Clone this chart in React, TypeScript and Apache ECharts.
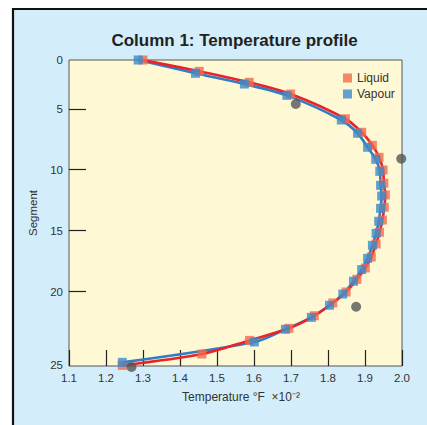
import React, { useEffect, useRef } from "react";
import * as echarts from "echarts";

// Temperature (°F ×10⁻²) vs segment
const vapourTemp = [1.287, 1.442, 1.574, 1.689, 1.836, 1.88, 1.907, 1.929, 1.94, 1.942, 1.945, 1.942, 1.937, 1.93, 1.92, 1.907, 1.891, 1.869, 1.84, 1.804, 1.755, 1.685, 1.601, 1.244];
const vapourSeg = [1.0, 2.09, 2.97, 3.9, 5.92, 7.01, 8.16, 9.15, 10.13, 11.28, 12.16, 13.17, 14.23, 15.22, 16.2, 17.27, 18.19, 19.15, 20.2, 21.12, 22.11, 23.09, 24.13, 25.8];
const liquidTemp = [1.3, 1.452, 1.587, 1.699, 1.847, 1.891, 1.92, 1.938, 1.949, 1.951, 1.955, 1.952, 1.947, 1.939, 1.93, 1.917, 1.901, 1.878, 1.849, 1.813, 1.763, 1.694, 1.588, 1.459, 1.244];
const liquidSeg = [1.0, 1.93, 2.83, 3.79, 5.82, 6.93, 8.0, 8.98, 10.02, 11.11, 12.07, 13.08, 14.13, 15.13, 16.09, 17.16, 18.06, 18.99, 20.03, 20.93, 21.98, 23.01, 24.0, 25.12, 26.05];
const measuredTemp = [1.713, 1.998, 1.876, 1.269];
const measuredSeg = [4.61, 9.1, 21.24, 26.18];

const yTickValues = [1, 5, 10, 15, 20, 26];
const yTickLabels = ["0", "5", "10", "15", "20", "25"];
const yInnerTicks = [5, 10, 15, 20];
const xMin = 1.1;
const xMax = 2.0;
const xInterval = 0.1;
const yMin = 1;
const yMax = 26.1;

const FONT = "'Liberation Sans', Arial, Helvetica, sans-serif";

const pairs = (xs: number[], ys: number[]) => xs.map((x, i) => [x, ys[i]]);

export default function App() {
  const ref = useRef<HTMLDivElement>(null);
  useEffect(() => {
    if (!ref.current) return;
    const chart = echarts.init(ref.current, null, { renderer: "svg" });
    chart.setOption({
      animation: false,
      backgroundColor: "#ffffff",
      textStyle: { fontFamily: FONT },
      graphic: [
        {
          type: "rect",
          z: -10,
          silent: true,
          shape: { x: 13, y: 9, width: 430, height: 430 },
          style: { fill: "#D4EDFA", stroke: "#111111", lineWidth: 2.2 },
        },
        {
          type: "text",
          x: 234.5,
          y: 40,
          style: {
            text: "Column 1: Temperature profile",
            fontFamily: FONT,
            fontSize: 17,
            fontWeight: "bold",
            fill: "#222222",
            textAlign: "center",
            textVerticalAlign: "middle",
          },
        },
      ],
      grid: {
        left: 69,
        right: 25,
        top: 60,
        bottom: 59,
        show: true,
        backgroundColor: "#FEF9D4",
        borderColor: "#555555",
        borderWidth: 1,
        z: 0,
      },
      legend: {
        data: ["Liquid", "Vapour"],
        orient: "vertical",
        left: 343,
        top: 72,
        padding: 0,
        itemWidth: 9,
        itemHeight: 9,
        itemGap: 4,
        icon: "rect",
        textStyle: { fontSize: 12, color: "#333333", fontFamily: FONT },
      },
      xAxis: {
        type: "value",
        min: xMin,
        max: xMax,
        interval: xInterval,
        name: "Temperature °F  ×10⁻²",
        nameLocation: "middle",
        nameGap: 25,
        nameTextStyle: { fontSize: 12, color: "#333333", fontFamily: FONT, padding: [0, 0, 0, 11] },
        axisLine: { show: false },
        splitLine: { show: false },
        axisTick: { show: true, inside: true, length: 16, lineStyle: { color: "#222222", width: 1.2 } },
        axisLabel: {
          fontSize: 11.5,
          color: "#333333",
          margin: 6,
          formatter: (v: number) => v.toFixed(1),
        },
      },
      yAxis: {
        type: "value",
        inverse: true,
        min: yMin,
        max: yMax,
        name: "Segment",
        nameLocation: "middle",
        nameGap: 24,
        nameTextStyle: { fontSize: 11.5, color: "#333333", fontFamily: FONT },
        axisLine: { show: false },
        splitLine: { show: false },
        axisTick: {
          show: true,
          inside: true,
          length: 17,
          customValues: yInnerTicks,
          lineStyle: { color: "#222222", width: 1.2 },
        },
        axisLabel: {
          fontSize: 11.5,
          color: "#333333",
          margin: 6,
          customValues: yTickValues,
          formatter: (v: number) => {
            const i = yTickValues.indexOf(v);
            return i >= 0 ? yTickLabels[i] : "";
          },
        },
      },
      series: [
        {
          name: "vapourLine",
          type: "line",
          data: pairs(vapourTemp, vapourSeg),
          smooth: 0.3,
          showSymbol: false,
          lineStyle: { color: "#2F7DC5", width: 2.6 },
          z: 2,
        },
        {
          name: "liquidLine",
          type: "line",
          data: pairs(liquidTemp, liquidSeg),
          smooth: 0.3,
          showSymbol: false,
          lineStyle: { color: "#E8232A", width: 2.6 },
          z: 3,
        },
        {
          name: "Liquid",
          type: "scatter",
          data: pairs(liquidTemp, liquidSeg),
          symbol: "rect",
          symbolSize: 9,
          itemStyle: { color: "#F2694B" },
          clip: false,
          z: 4,
        },
        {
          name: "Vapour",
          type: "scatter",
          data: pairs(vapourTemp, vapourSeg),
          symbol: "rect",
          symbolSize: 9,
          itemStyle: { color: "#3B89CB" },
          clip: false,
          z: 5,
        },
        {
          name: "measured",
          type: "scatter",
          data: pairs(measuredTemp, measuredSeg),
          symbol: "circle",
          symbolSize: 10,
          itemStyle: { color: "#555555" },
          clip: false,
          z: 6,
        },
      ],
    });
    return () => chart.dispose();
  }, []);
  return (
    <div
      ref={ref}
      style={{ position: "fixed", left: 0, top: 0, width: 427, height: 425 }}
    />
  );
}
